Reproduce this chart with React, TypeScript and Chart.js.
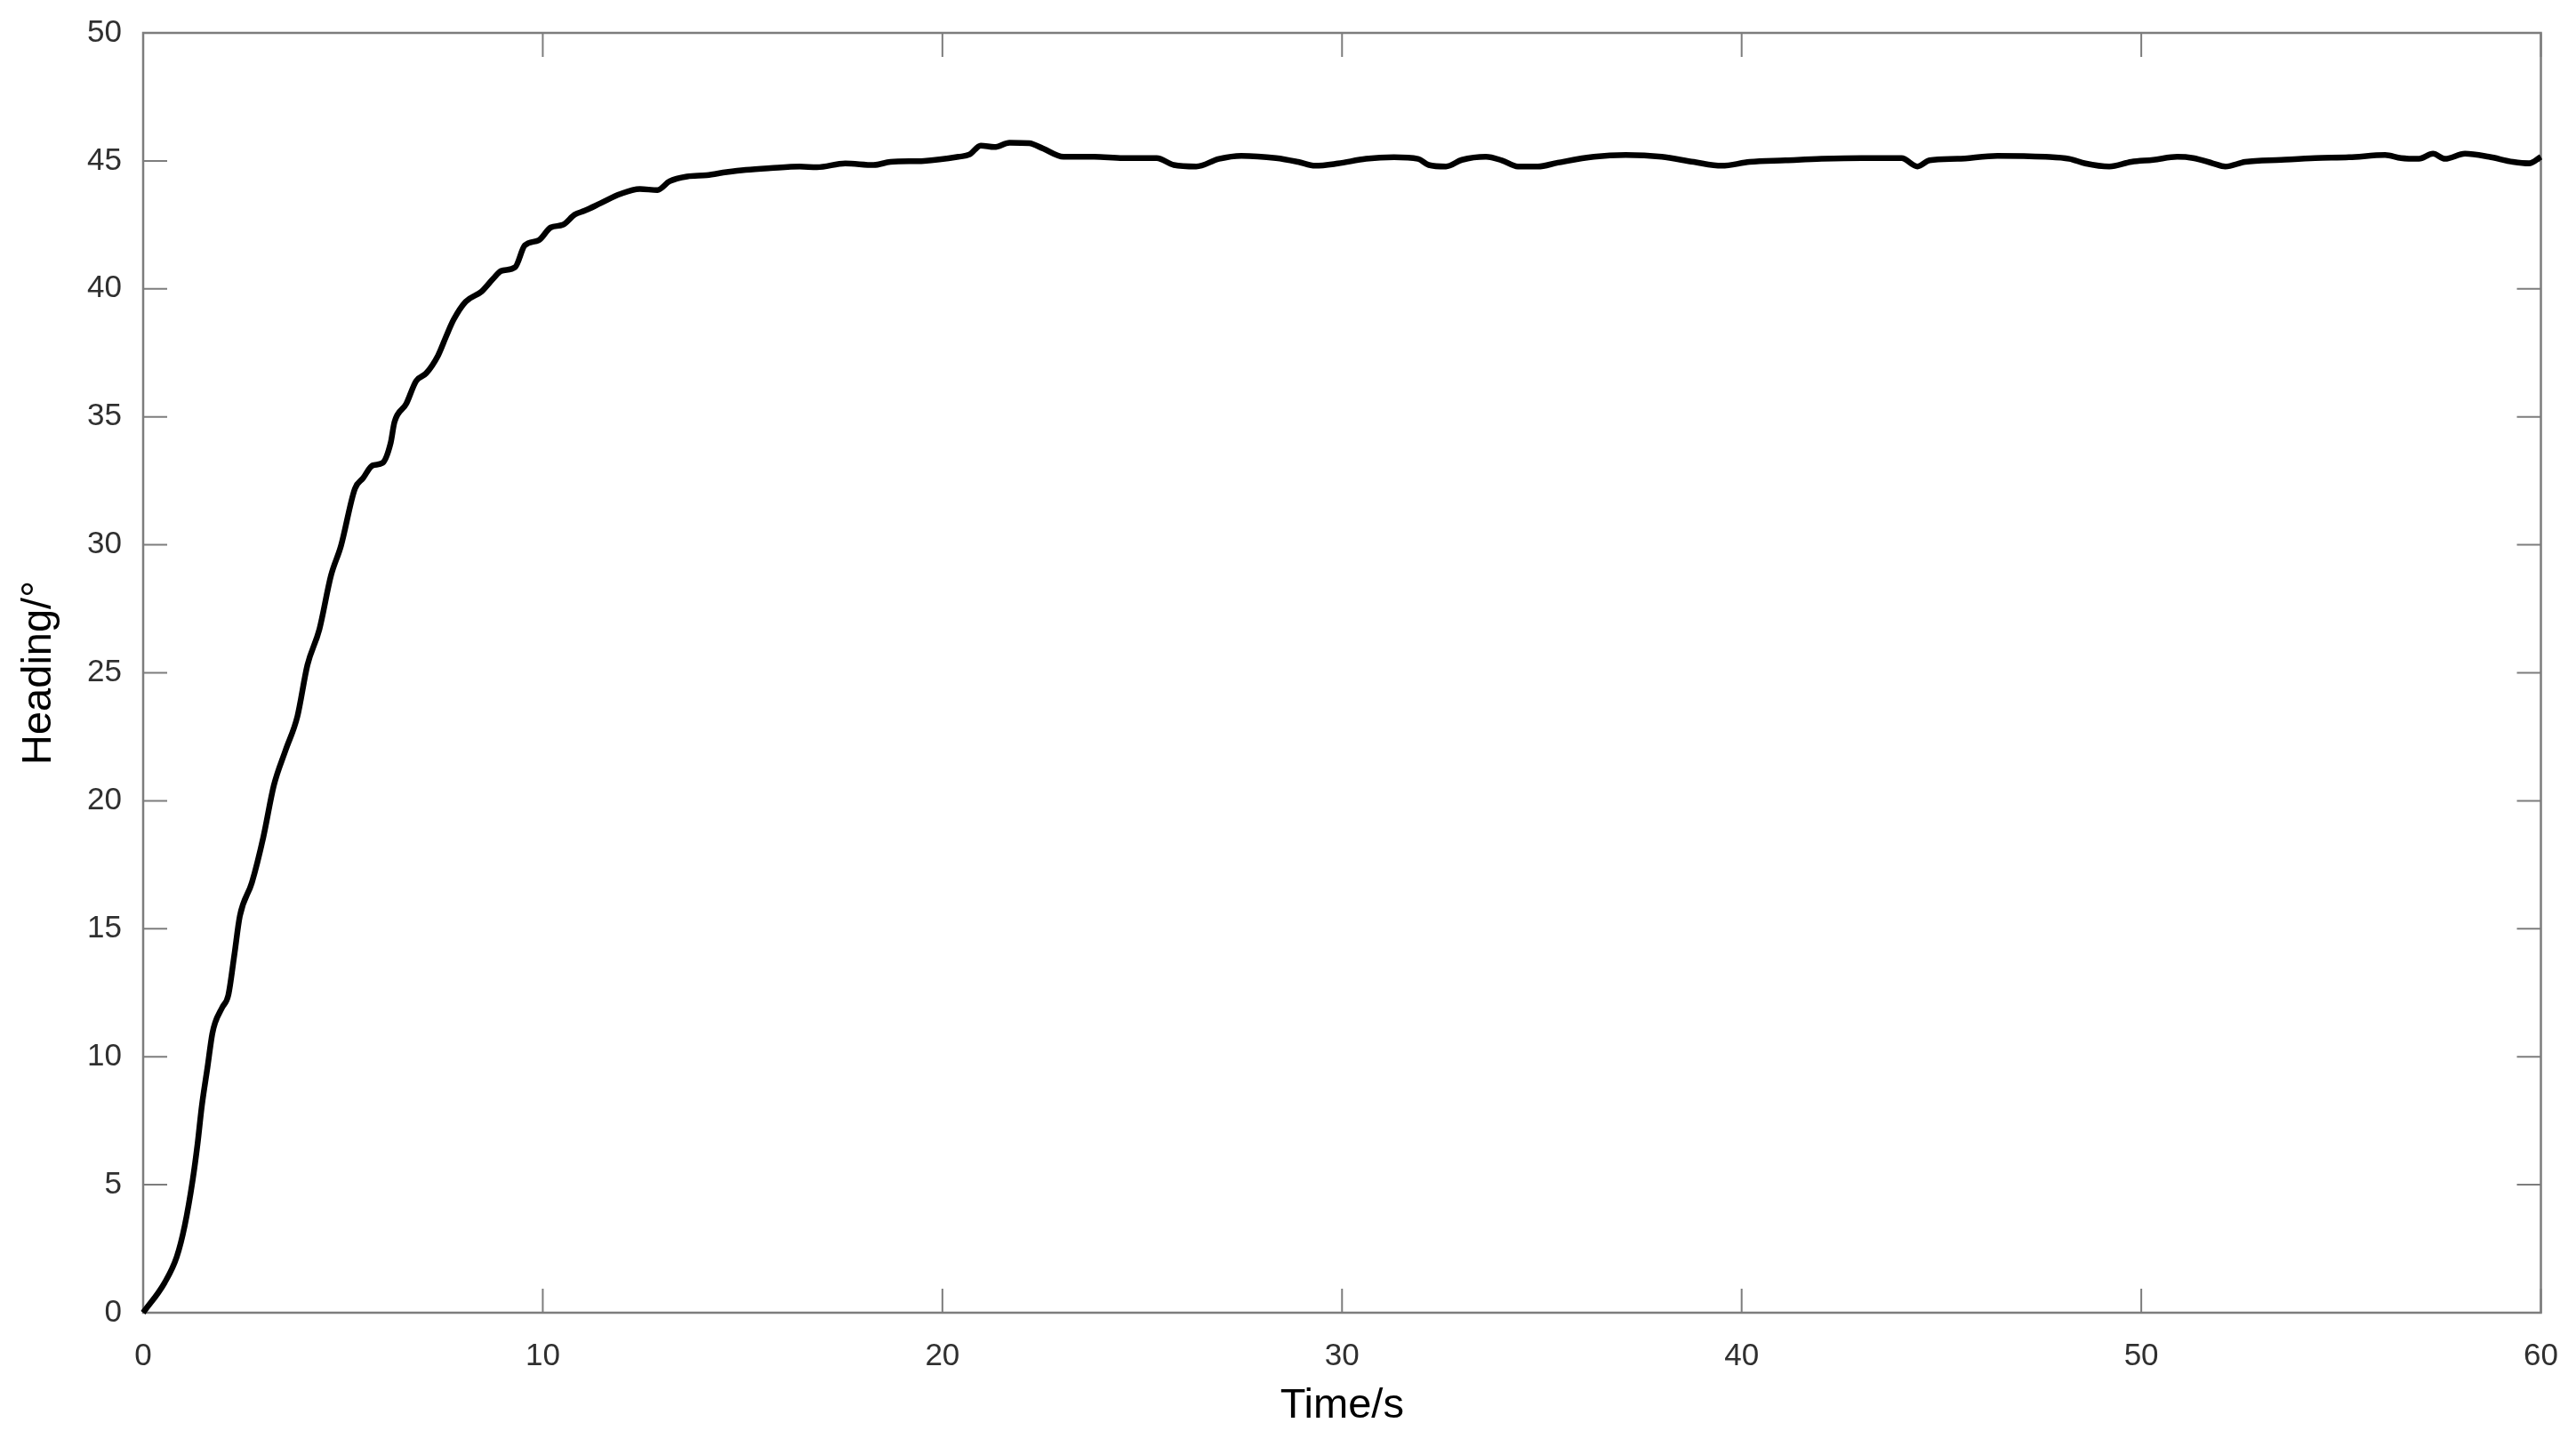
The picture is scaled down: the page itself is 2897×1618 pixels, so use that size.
import React, { useEffect, useRef } from "react";
import { Chart, registerables } from "chart.js";

Chart.register(...registerables);

const timeSeconds: number[] = [
  0, 0.54, 0.84, 1.04, 1.24, 1.36, 1.47, 1.61, 1.73, 1.8,
  1.98, 2.13, 2.28, 2.42, 2.72, 3.01, 3.27, 3.56, 3.86, 4.11,
  4.41, 4.7, 4.95, 5.3, 5.5, 5.74, 5.99, 6.19, 6.29, 6.58,
  6.83, 7.08, 7.38, 7.57, 7.77, 8.07, 8.47, 8.76, 8.96, 9.31,
  9.55, 9.9, 10.2, 10.5, 10.8, 11.04, 11.44, 11.93, 12.43, 12.87,
  13.17, 13.61, 14.1, 14.6, 15.08, 15.7, 16.43, 16.86, 17.57, 18.28,
  18.7, 19.54, 20.4, 20.68, 20.96, 21.3, 21.68, 22.17, 22.52, 23.03,
  23.8, 24.52, 25.36, 25.79, 26.35, 26.92, 27.48, 28.35, 28.9, 29.33,
  29.9, 30.6, 31.3, 31.9, 32.17, 32.6, 33.0, 33.6, 34.0, 34.4,
  34.9, 35.4, 36.3, 37.1, 38.0, 38.8, 39.5, 40.2, 41.1, 42.0,
  43.0, 44.0, 44.4, 44.7, 45.4, 46.4, 47.6, 48.2, 48.6, 49.2,
  49.75, 50.3, 50.9, 51.3, 51.8, 52.1, 52.6, 53.5, 54.35, 55.2,
  56.1, 56.5, 56.95, 57.3, 57.6, 58.1, 58.7, 59.3, 59.7, 60.0,
];

const headingDeg: number[] = [
  0, 1.18, 2.18, 3.4, 5.19, 6.58, 8.1, 9.59, 10.9, 11.33,
  11.93, 12.4, 13.96, 15.5, 16.8, 18.6, 20.6, 21.96, 23.3, 25.3,
  26.7, 28.8, 29.96, 32.2, 32.6, 33.1, 33.2, 33.96, 34.8, 35.5,
  36.4, 36.7, 37.4, 38.1, 38.8, 39.5, 39.9, 40.4, 40.7, 40.85,
  41.7, 41.9, 42.4, 42.5, 42.9, 43.05, 43.34, 43.7, 43.9, 43.86,
  44.2, 44.39, 44.44, 44.56, 44.65, 44.72, 44.78, 44.75, 44.9, 44.84,
  44.96, 45.0, 45.16, 45.25, 45.6, 45.54, 45.71, 45.69, 45.48, 45.16,
  45.16, 45.11, 45.11, 44.84, 44.78, 45.08, 45.2, 45.11, 44.96, 44.81,
  44.9, 45.08, 45.14, 45.08, 44.84, 44.78, 45.04, 45.16, 45.02, 44.78,
  44.78, 44.93, 45.16, 45.23, 45.16, 44.96, 44.81, 44.96, 45.02, 45.08,
  45.11, 45.11, 44.78, 45.02, 45.08, 45.2, 45.16, 45.08, 44.9, 44.78,
  44.96, 45.04, 45.16, 45.11, 44.9, 44.78, 44.96, 45.04, 45.11, 45.14,
  45.23, 45.11, 45.08, 45.28, 45.08, 45.28, 45.16, 44.96, 44.9, 45.16,
];

const xTickStep = 10;
const yTickStep = 5;
const xRange = [0, 60];
const yRange = [0, 50];
const xTitle = "Time/s";
const yTitle = "Heading/°";

const FONT = "'Liberation Sans', Arial, Helvetica, sans-serif";
const AXIS_COLOR = "#7d7d7d";
const TEXT_COLOR = "#303030";
const TICK_LEN = 27;

const framePlugin = {
  id: "matlabFrame",
  beforeDatasetsDraw(chart: any) {
    const { ctx, chartArea } = chart;
    const { left, right, top, bottom } = chartArea;
    const xs = chart.scales.x;
    const ys = chart.scales.y;
    ctx.save();
    ctx.strokeStyle = AXIS_COLOR;
    ctx.lineWidth = 2.5;
    ctx.beginPath();
    ctx.rect(left, top, right - left, bottom - top);
    ctx.stroke();
    ctx.lineWidth = 2;
    ctx.beginPath();
    xs.ticks.forEach((t: any) => {
      const px = xs.getPixelForValue(t.value);
      ctx.moveTo(px, bottom);
      ctx.lineTo(px, bottom - TICK_LEN);
      ctx.moveTo(px, top);
      ctx.lineTo(px, top + TICK_LEN);
    });
    ys.ticks.forEach((t: any) => {
      const py = ys.getPixelForValue(t.value);
      ctx.moveTo(left, py);
      ctx.lineTo(left + TICK_LEN, py);
      ctx.moveTo(right, py);
      ctx.lineTo(right - TICK_LEN, py);
    });
    ctx.stroke();
    ctx.restore();
  },
};

export default function App() {
  const canvasRef = useRef<HTMLCanvasElement | null>(null);

  useEffect(() => {
    const canvas = canvasRef.current;
    if (!canvas) return;
    const points = timeSeconds.map((t, i) => ({ x: t, y: headingDeg[i] }));
    const chart = new Chart(canvas, {
      type: "line",
      data: {
        datasets: [
          {
            label: "Heading",
            data: points,
            borderColor: "#000000",
            borderWidth: 6.5,
            pointRadius: 0,
            tension: 0.25,
            cubicInterpolationMode: "monotone",
            fill: false,
            clip: false as any,
          },
        ],
      },
      options: {
        responsive: false,
        animation: false,
        devicePixelRatio: 1,
        layout: { padding: { top: 37, right: 37, left: 0, bottom: 0 } },
        plugins: {
          legend: { display: false },
          tooltip: { enabled: false },
        },
        scales: {
          x: {
            type: "linear",
            min: xRange[0],
            max: xRange[1],
            grid: { display: false },
            border: { display: false },
            ticks: {
              stepSize: xTickStep,
              color: TEXT_COLOR,
              font: { family: FONT, size: 35 },
              padding: 20,
              maxRotation: 0,
            },
            title: {
              display: true,
              text: xTitle,
              color: "#000000",
              font: { family: FONT, size: 47 },
              padding: 9,
            },
            afterFit: (s: any) => {
              s.height = 142;
            },
          },
          y: {
            type: "linear",
            min: yRange[0],
            max: yRange[1],
            grid: { display: false },
            border: { display: false },
            ticks: {
              stepSize: yTickStep,
              color: TEXT_COLOR,
              font: { family: FONT, size: 35 },
              padding: 16,
            },
            title: {
              display: true,
              text: yTitle,
              color: "#000000",
              font: { family: FONT, size: 47 },
              padding: 16,
            },
            afterFit: (s: any) => {
              s.width = 161;
            },
          },
        },
      },
      plugins: [framePlugin],
    });
    return () => chart.destroy();
  }, []);

  return (
    <div
      style={{
        position: "fixed",
        left: 0,
        top: 0,
        width: 2897,
        height: 1618,
        background: "#ffffff",
      }}
    >
      <canvas ref={canvasRef} width={2897} height={1618} />
    </div>
  );
}
